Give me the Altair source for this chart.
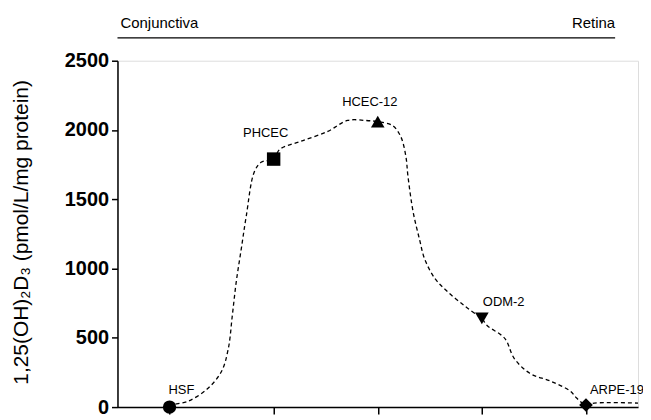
import altair as alt
import pandas as pd

# Cell lines (markers)
cells = ["HSF", "PHCEC", "HCEC-12", "ODM-2", "ARPE-19"]
cell_x = [1, 2, 3, 4, 5]
cell_y = [0, 1790, 2060, 640, 15]
cell_shapes = ["circle", "square", "triangle-up", "triangle-down", "diamond"]

# Dashed trend curve
curve_x = [1.0, 1.02, 1.18, 1.37, 1.50, 1.565, 1.603, 1.641, 1.689, 1.737, 1.813, 1.88,
           2.0, 2.06, 2.26, 2.52, 2.71, 2.88, 3.0, 3.14, 3.22, 3.27, 3.29, 3.34,
           3.40, 3.45, 3.55, 3.67, 3.83, 3.96, 4.0, 4.05, 4.22, 4.31, 4.46, 4.66,
           4.85, 4.91, 5.0, 5.08, 5.5]
curve_y = [0, 14, 43, 136, 259, 424, 661, 905, 1142, 1379, 1695, 1767,
           1790, 1861, 1918, 1990, 2069, 2069, 2060, 2033, 1954, 1810, 1667, 1408,
           1214, 1070, 927, 833, 733, 661, 640, 589, 496, 352, 244, 187,
           115, 65, 15, 29, 29]

y_ticks = [0, 500, 1000, 1500, 2000, 2500]
x_ticks = [1, 2, 3, 4, 5]
header_left = "Conjunctiva"
header_right = "Retina"
y_title = "1,25(OH)₂D₃ (pmol/L/mg protein)"

FONT = "Liberation Sans"

pts = pd.DataFrame({"cell": cells, "x": cell_x, "y": cell_y})
curve = pd.DataFrame({"x": curve_x, "y": curve_y})

xs = alt.Scale(domain=[0.5, 5.5], nice=False, zero=False)
ys = alt.Scale(domain=[0, 2500], nice=False)

x_axis = alt.Axis(values=x_ticks, labels=False, title=None, grid=False,
                  tickSize=7, tickColor="black", tickWidth=1.5,
                  domainColor="black", domainWidth=1.5)
y_axis = alt.Axis(values=y_ticks, format="d", grid=False, tickSize=6, tickColor="black",
                  tickWidth=1.5, domainColor="black", domainWidth=1.5,
                  labelFont=FONT, labelFontSize=20, labelFontWeight="bold",
                  labelColor="black", labelPadding=3,
                  title=y_title, titleFont=FONT, titleFontSize=21,
                  titleFontWeight="normal", titleColor="black",
                  titleX=-96, titleY=172, titleAngle=-90,
                  titleAlign="center", titleBaseline="middle")

line = alt.Chart(curve).mark_line(
    color="black", strokeWidth=1.3, strokeDash=[4, 3], interpolate="catmull-rom"
).encode(
    x=alt.X("x:Q", scale=xs, axis=x_axis),
    y=alt.Y("y:Q", scale=ys, axis=y_axis),
)

markers = alt.Chart(pts).mark_point(filled=True, opacity=1, color="black").encode(
    x=alt.X("x:Q", scale=xs),
    y=alt.Y("y:Q", scale=ys),
    shape=alt.Shape("cell:N", scale=alt.Scale(domain=cells, range=cell_shapes), legend=None),
    size=alt.Size("cell:N", scale=alt.Scale(domain=cells, range=[180, 190, 200, 200, 270]), legend=None),
)

label_offsets = {
    "HSF": ("left", -1, -17),
    "PHCEC": ("center", -8, -26),
    "HCEC-12": ("center", -8, -20),
    "ODM-2": ("left", 1, -16),
    "ARPE-19": ("left", 4, -15),
}
label_layers = []
for name, (al, dx, dy) in label_offsets.items():
    label_layers.append(
        alt.Chart(pts).transform_filter(alt.datum.cell == name).mark_text(
            font=FONT, fontSize=13, color="black", align=al, baseline="middle", dx=dx, dy=dy
        ).encode(x=alt.X("x:Q", scale=xs), y=alt.Y("y:Q", scale=ys), text="cell:N")
    )

one = pd.DataFrame({"k": [0]})
header_rule = alt.Chart(one).mark_rule(color="black", strokeWidth=1.2).encode(
    x=alt.value(0), x2=alt.value(500), y=alt.value(-23)
)
header_l = alt.Chart(one).mark_text(
    text=header_left, font=FONT, fontSize=15, align="left", baseline="alphabetic", color="black"
).encode(x=alt.value(3), y=alt.value(-33))
header_r = alt.Chart(one).mark_text(
    text=header_right, font=FONT, fontSize=15, align="right", baseline="alphabetic", color="black"
).encode(x=alt.value(500), y=alt.value(-33))

chart = alt.layer(line, markers, *label_layers, header_rule, header_l, header_r).properties(
    width=523, height=348,
    autosize=alt.AutoSizeParams(type="none"),
    padding={"left": 110, "top": 52, "right": 5, "bottom": 9},
).configure_view(stroke=None).configure(background="white")

chart.save("out.html", embed_options={"renderer": "svg", "actions": False})
